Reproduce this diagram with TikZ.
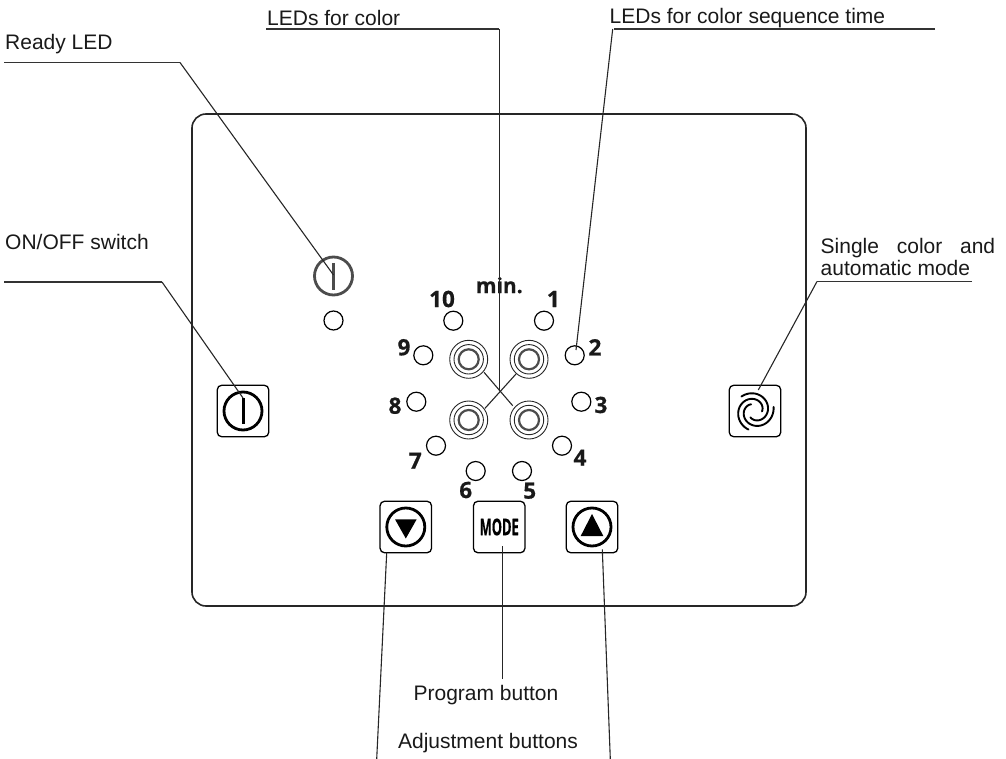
\documentclass[tikz,border=0pt]{standalone}
\usepackage{fontspec}
\setmainfont{Liberation Sans}
\newfontfamily\numfont{Open Sans}[BoldFont=Open Sans Bold,BoldFeatures={FakeBold=0.6}]
\tikzset{
  lbl/.style={inner sep=0pt,anchor=base west,font=\fontsize{21}{22}\selectfont,text=black!90},
  num/.style={inner sep=0pt,font=\fontsize{22.5}{23}\selectfont\numfont\bfseries,text=black!90},
  led/.style={draw=black,circle,minimum size=19pt,inner sep=0pt,line width=1.2pt},
  btn/.style={draw=black,rounded corners=4.5pt,minimum size=51.5pt,inner sep=0pt,line width=1.3pt},
  leader/.style={draw=black!85,line width=1.1pt},
  leaderh/.style={draw=black!80,line width=1.3pt},
  ringa/.style={draw=black!85,circle,minimum size=38pt,inner sep=0pt,line width=.9pt},
  ringb/.style={draw=black!85,circle,minimum size=29.4pt,inner sep=0pt,line width=.9pt},
  ringc/.style={draw=black!70,circle,minimum size=20pt,inner sep=0pt,line width=2.2pt},
  symring/.style={draw=black,circle,minimum size=38pt,inner sep=0pt,line width=2.8pt},
}
\begin{document}
\begin{tikzpicture}[x=1pt,y=-1pt]
\useasboundingbox (0,0) rectangle (1006,759);
\draw[draw=black!85,line width=1.6pt,rounded corners=14pt] (192,114) rectangle (806,606);

% Ready LED and ON/OFF
\node[symring,draw=black!70] (ready) at (333.5,276) {};
\draw[draw=black!70,line width=3pt] (333.5,263) -- (333.5,290);
\node[led] (readyled) at (333.5,320.5) {};
\node[btn] (onoff) at (243,411) {};
\node[symring] (onoffring) at (243,411) {};
\draw[line width=3pt] (243,398) -- (243,424);

% time LEDs
\node[led] (l10) at (453.3,320.7) {};
\node[led] (l1) at (544,320.7) {};
\node[led] (l9) at (423.3,355.3) {};
\node[led] (l2) at (574.7,355.3) {};
\node[led] (l8) at (416.3,401.7) {};
\node[led] (l3) at (581.3,401.7) {};
\node[led] (l7) at (436,445.7) {};
\node[led] (l4) at (562,445.7) {};
\node[led] (l6) at (475.7,471) {};
\node[led] (l5) at (522,471) {};
\node[num] at (442,299) {10};
\node[num] at (553.3,299) {1};
\node[num] at (404,347.3) {9};
\node[num] at (595,347.3) {2};
\node[num] at (395,405.7) {8};
\node[num] at (601,405) {3};
\node[num] at (415.3,460.7) {7};
\node[num] at (580,457.7) {4};
\node[num] at (465.7,490) {6};
\node[num] at (529.7,490.7) {5};
\node[num,anchor=base,font=\fontsize{21}{22}\selectfont\numfont\bfseries] at (499.3,293) {min.};

% colour LEDs
\foreach \n/\x/\y in {tl/468.7/359.3,tr/529/359.3,bl/468.7/420,br/529/420}{
  \node[ringa] (r\n) at (\x,\y) {};
  \node[ringb] at (\x,\y) {};
  \node[ringc] at (\x,\y) {};
}

% bottom buttons
\node[btn] (down) at (405.8,527) {};
\node[symring] at (405.8,527) {};
\fill (395,519.3) -- (416.7,519.3) -- (405.8,538.5) -- cycle;
\node[btn] (mode) at (499.2,527) {\fontsize{23}{24}\selectfont\numfont\bfseries\scalebox{.56}[1]{MODE}};
\node[btn] (up) at (592,527) {};
\node[symring] at (592,527) {};
\fill (580.7,536) -- (603.3,536) -- (592,514) -- cycle;

% swirl button
\node[btn] (swirl) at (755,411) {};
\foreach \rot in {0,120,240}{
  \draw[line width=1.9pt,line cap=round,smooth] plot[domain=0:255,samples=36,variable=\t]
    ({754.5+(19.5-12*\t/255)*cos(132+\rot-\t)},{411-(19.5-12*\t/255)*sin(132+\rot-\t)});
}

% labels
\node[lbl] (tready) at (5,50) {Ready LED};
\node[lbl] (tcolor) at (267,26) {LEDs for color};
\node[lbl] (ttime) at (609.5,24) {LEDs for color sequence time};
\node[lbl] (tonoff) at (5,250) {ON/OFF switch};
\node[lbl,anchor=west,align=left] (tsingle) at (820.5,256.5) {\makebox[174.5pt][s]{Single color and}\\automatic mode};
\node[lbl,anchor=base] (tprog) at (486,700.7) {Program button};
\node[lbl,anchor=base] (tadj) at (488,748.3) {Adjustment buttons};

% leader points
\coordinate (a1) at (4,62.5);
\coordinate (a2) at (180,62.5);
\coordinate (a3) at (333.5,275);
\coordinate (b1) at (4,282);
\coordinate (b2) at (162,282);
\coordinate (b3) at (243,398);
\coordinate (c1) at (266,29);
\coordinate (c2) at (499.3,29);
\coordinate (c3) at (499.3,390.7);
\coordinate (d1) at (935,29);
\coordinate (d2) at (614,29);
\coordinate (d3) at (612.7,29);
\coordinate (d4) at (576,350);
\coordinate (e1) at (972,281.5);
\coordinate (e2) at (817,281.5);
\coordinate (e3) at (758.3,390);
\coordinate (f1) at (376.7,759);
\coordinate (f2) at (386.7,552.7);
\coordinate (g1) at (610.3,759);
\coordinate (g2) at (602.3,549.3);
\coordinate (h1) at (502.4,679);
\coordinate (h2) at (502.4,546);
\coordinate (x1) at (484,372.3);
\coordinate (x2) at (512.7,405.7);
\coordinate (x3) at (516,374);
\coordinate (x4) at (485,408.3);

\draw[leaderh] (a1) -- (a2);
\draw[leader] (a2) -- (a3);
\draw[leaderh] (b1) -- (b2);
\draw[leader] (b2) -- (b3);
\draw[leaderh] (c1) -- (c2);
\draw[leader] (c2) -- (c3);
\draw[leaderh] (d1) -- (d2);
\draw[leader] (d3) -- (d4);
\draw[leaderh] (e1) -- (e2);
\draw[leader] (e2) -- (e3);
\draw[leader] (f1) -- (f2);
\draw[leader] (g1) -- (g2);
\draw[leader] (h1) -- (h2);
\draw[leader] (x1) -- (x2);
\draw[leader] (x3) -- (x4);
\end{tikzpicture}
\end{document}
